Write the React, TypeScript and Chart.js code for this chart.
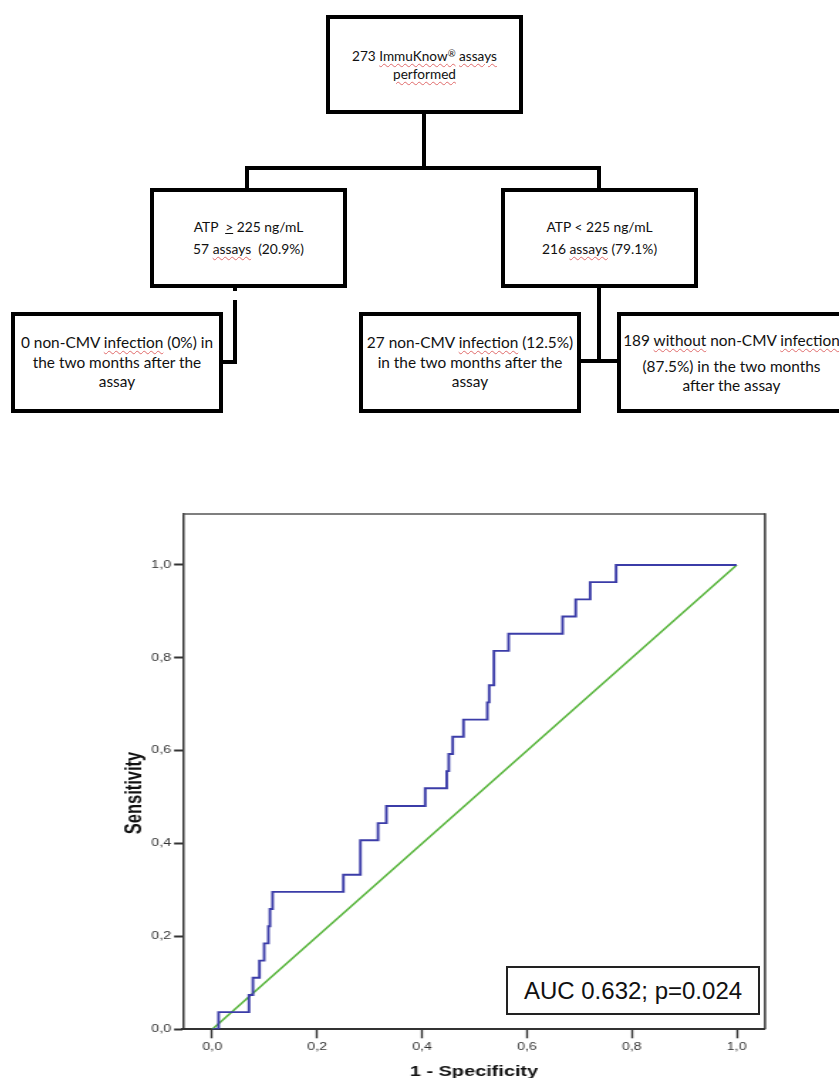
import React, { useEffect, useRef } from 'react';
import { Chart, registerables } from 'chart.js';

Chart.register(...registerables);

// ROC curve vertices (1 - specificity, sensitivity)
const rocFpr = [0, 0.012, 0.07, 0.0775, 0.09, 0.099, 0.107, 0.11, 0.115, 0.25, 0.2825, 0.316, 0.332, 0.406, 0.447, 0.451, 0.4585, 0.479, 0.5245, 0.528, 0.537, 0.565, 0.668, 0.693, 0.7206, 0.77, 1.0];
const rocTpr = [0, 0.037, 0.074, 0.111, 0.148, 0.185, 0.222, 0.259, 0.296, 0.333, 0.407, 0.444, 0.481, 0.519, 0.556, 0.593, 0.63, 0.667, 0.704, 0.741, 0.815, 0.852, 0.889, 0.926, 0.963, 1.0, 1.0];
// reference (chance) line
const refFpr = [0, 1];
const refTpr = [0, 1];

const xTicks = [0, 0.2, 0.4, 0.6, 0.8, 1.0];
const yTicks = [0, 0.2, 0.4, 0.6, 0.8, 1.0];
const xTitle = '1 - Specificity';
const yTitle = 'Sensitivity';
const aucLabel = 'AUC 0.632; p=0.024';

const fmt = (v: number) => Number(v).toFixed(1).replace('.', ',');

const SANS = '"Liberation Sans", Arial, sans-serif';
const FLOW_FONT = 'Lato, "Noto Sans", sans-serif';

const STRETCH = 739 / 520;

const decorPlugin = {
  id: 'rocDecor',
  afterDraw(chart: any) {
    const { ctx, chartArea: a } = chart;
    ctx.save();
    ctx.strokeStyle = '#555';
    ctx.lineWidth = 1.4;
    ctx.beginPath();
    ctx.moveTo(a.left, a.top);
    ctx.lineTo(a.right, a.top);
    ctx.stroke();
    ctx.strokeStyle = '#333';
    ctx.lineWidth = 1.5;
    ctx.beginPath();
    ctx.moveTo(a.right, a.top - 0.7);
    ctx.lineTo(a.right, a.bottom);
    ctx.stroke();
    ctx.fillStyle = '#111';
    ctx.textAlign = 'center';
    ctx.textBaseline = 'middle';
    ctx.font = 'bold 14px ' + SANS;
    ctx.fillText(xTitle, (a.left + a.right) / 2, a.bottom + 42.4);
    ctx.translate(a.left - 33.8, a.top + 279);
    ctx.rotate(-Math.PI / 2);
    ctx.font = 'bold 16.5px ' + SANS;
    ctx.fillText(yTitle, 0, 0);
    ctx.restore();
  },
};

function RocChart() {
  const ref = useRef<HTMLCanvasElement | null>(null);
  useEffect(() => {
    if (!ref.current) return;
    const chart = new Chart(ref.current, {
      type: 'scatter',
      data: {
        datasets: [
          {
            data: rocFpr.map((x, i) => ({ x, y: rocTpr[i] })),
            showLine: true,
            stepped: 'before',
            borderColor: '#3b3ca8',
            borderWidth: 1.9,
            pointRadius: 0,
            fill: false,
          },
          {
            data: refFpr.map((x, i) => ({ x, y: refTpr[i] })),
            showLine: true,
            borderColor: '#56b43a',
            borderWidth: 1.5,
            pointRadius: 0,
            fill: false,
          },
        ],
      } as any,
      options: {
        animation: false,
        responsive: false,
        layout: { padding: { left: 0, right: 52.1, top: 24, bottom: 0 } },
        plugins: { legend: { display: false }, tooltip: { enabled: false } },
        scales: {
          x: {
            type: 'linear',
            min: -0.0558,
            max: 1.0539,
            afterBuildTicks: (axis: any) => {
              axis.ticks = xTicks.map((value) => ({ value }));
            },
            afterFit: (s: any) => {
              s.height = 48.7;
            },
            ticks: {
              callback: (v: any) => fmt(v),
              font: { family: SANS, size: 10 },
              color: '#333',
              padding: 3,
              autoSkip: false,
              maxRotation: 0,
            },
            grid: {
              drawOnChartArea: false,
              drawTicks: true,
              tickLength: 9,
              tickWidth: 1.4,
              tickColor: '#333',
              color: '#333',
            },
            border: { display: true, color: '#333', width: 2 },
          },
          y: {
            type: 'linear',
            min: 0,
            max: 1.1098,
            afterBuildTicks: (axis: any) => {
              axis.ticks = yTicks.map((value) => ({ value }));
            },
            afterFit: (s: any) => {
              s.width = 58.4;
            },
            ticks: {
              callback: (v: any) => fmt(v),
              font: { family: SANS, size: 10 },
              color: '#333',
              padding: 2.1,
              autoSkip: false,
            },
            grid: {
              drawOnChartArea: false,
              drawTicks: true,
              tickLength: 6.3,
              tickWidth: 2,
              tickColor: '#333',
              color: '#333',
            },
            border: { display: true, color: '#333', width: 1.5 },
          },
        },
      } as any,
      plugins: [decorPlugin],
    });
    return () => chart.destroy();
  }, []);
  return (
    <div
      style={{
        position: 'absolute',
        left: 100,
        top: 490,
        width: 520,
        height: 588,
        transform: `scaleX(${STRETCH})`,
        transformOrigin: '0 0',
      }}
    >
      <canvas ref={ref} width={520} height={588} style={{ display: 'block' }} />
    </div>
  );
}

const sq: React.CSSProperties = {
  textDecorationLine: 'underline',
  textDecorationStyle: 'wavy',
  textDecorationColor: '#e06a6a',
  textDecorationThickness: '1px',
  textUnderlineOffset: '2px',
};

function Box(props: { x: number; y: number; w: number; h: number; fs: number; lh: number; children: any }) {
  const { x, y, w, h, fs, lh, children } = props;
  return (
    <div
      style={{
        position: 'absolute',
        left: x,
        top: y,
        width: w,
        height: h,
        boxSizing: 'border-box',
        border: '4px solid #000',
        background: '#fff',
        display: 'flex',
        flexDirection: 'column',
        justifyContent: 'center',
        alignItems: 'center',
        textAlign: 'center',
        fontFamily: FLOW_FONT,
        fontSize: fs,
        lineHeight: lh + 'px',
        color: '#111',
        whiteSpace: 'nowrap',
      }}
    >
      {children}
    </div>
  );
}

function Line(props: { x: number; y: number; w: number; h: number }) {
  const { x, y, w, h } = props;
  return <div style={{ position: 'absolute', left: x, top: y, width: w, height: h, background: '#000' }} />;
}

export default function App() {
  return (
    <div
      style={{
        position: 'absolute',
        left: 0,
        top: 0,
        width: 839,
        height: 1078,
        overflow: 'hidden',
        background: '#fff',
      }}
    >
      {/* connectors */}
      <Line x={422} y={112} w={4} h={58} />
      <Line x={245} y={166} w={356} h={4} />
      <Line x={245} y={166} w={4} h={24} />
      <Line x={597} y={166} w={4} h={24} />
      <Line x={233} y={286} w={4} h={5} />
      <Line x={233} y={300} w={4} h={64} />
      <Line x={220} y={360} w={17} h={4} />
      <Line x={597} y={286} w={4} h={77} />
      <Line x={579} y={359} w={41} h={4} />

      <Box x={326} y={15} w={197} h={99} fs={13.6} lh={16}>
        <div>
          273 <span style={sq}>ImmuKnow<span style={{ fontSize: '0.7em', position: 'relative', top: '-0.35em' }}>®</span></span>{' '}
          <span style={sq}>assays</span>
        </div>
        <div>
          <span style={sq}>performed</span>
        </div>
      </Box>

      <Box x={150} y={188} w={197} h={100} fs={13.8} lh={22}>
        <div>
          ATP&nbsp; <span style={{ textDecoration: 'underline' }}>&gt;</span> 225 ng/mL
        </div>
        <div>
          57 <span style={sq}>assays</span>&nbsp; (20.9%)
        </div>
      </Box>

      <Box x={501} y={188} w={197} h={100} fs={13.8} lh={22}>
        <div>ATP &lt; 225 ng/mL</div>
        <div>
          216 <span style={sq}>assays</span> (79.1%)
        </div>
      </Box>

      <Box x={11} y={312} w={212} h={101} fs={15.4} lh={19.5}>
        <div>
          0 non-CMV <span style={sq}>infection</span> (0%) in
        </div>
        <div>the two months after the</div>
        <div>assay</div>
      </Box>

      <Box x={359} y={312} w={222} h={101} fs={15.4} lh={19.5}>
        <div>
          27 non-CMV <span style={sq}>infection</span> (12.5%)
        </div>
        <div>in the two months after the</div>
        <div>assay</div>
      </Box>

      <Box x={617} y={312} w={229} h={101} fs={15.4} lh={19}>
        <div style={{ marginBottom: 7 }}>
          189 <span style={sq}>without</span> non-CMV <span style={sq}>infection</span>
        </div>
        <div>(87.5%) in the two months</div>
        <div>after the assay</div>
      </Box>

      <RocChart />

      <div
        style={{
          position: 'absolute',
          left: 506,
          top: 966,
          width: 254,
          height: 49,
          boxSizing: 'border-box',
          border: '2px solid #222',
          background: '#fff',
          display: 'flex',
          alignItems: 'center',
          justifyContent: 'center',
          fontFamily: SANS,
          fontSize: 24,
          color: '#111',
          whiteSpace: 'nowrap',
        }}
      >
        {aucLabel}
      </div>
    </div>
  );
}
